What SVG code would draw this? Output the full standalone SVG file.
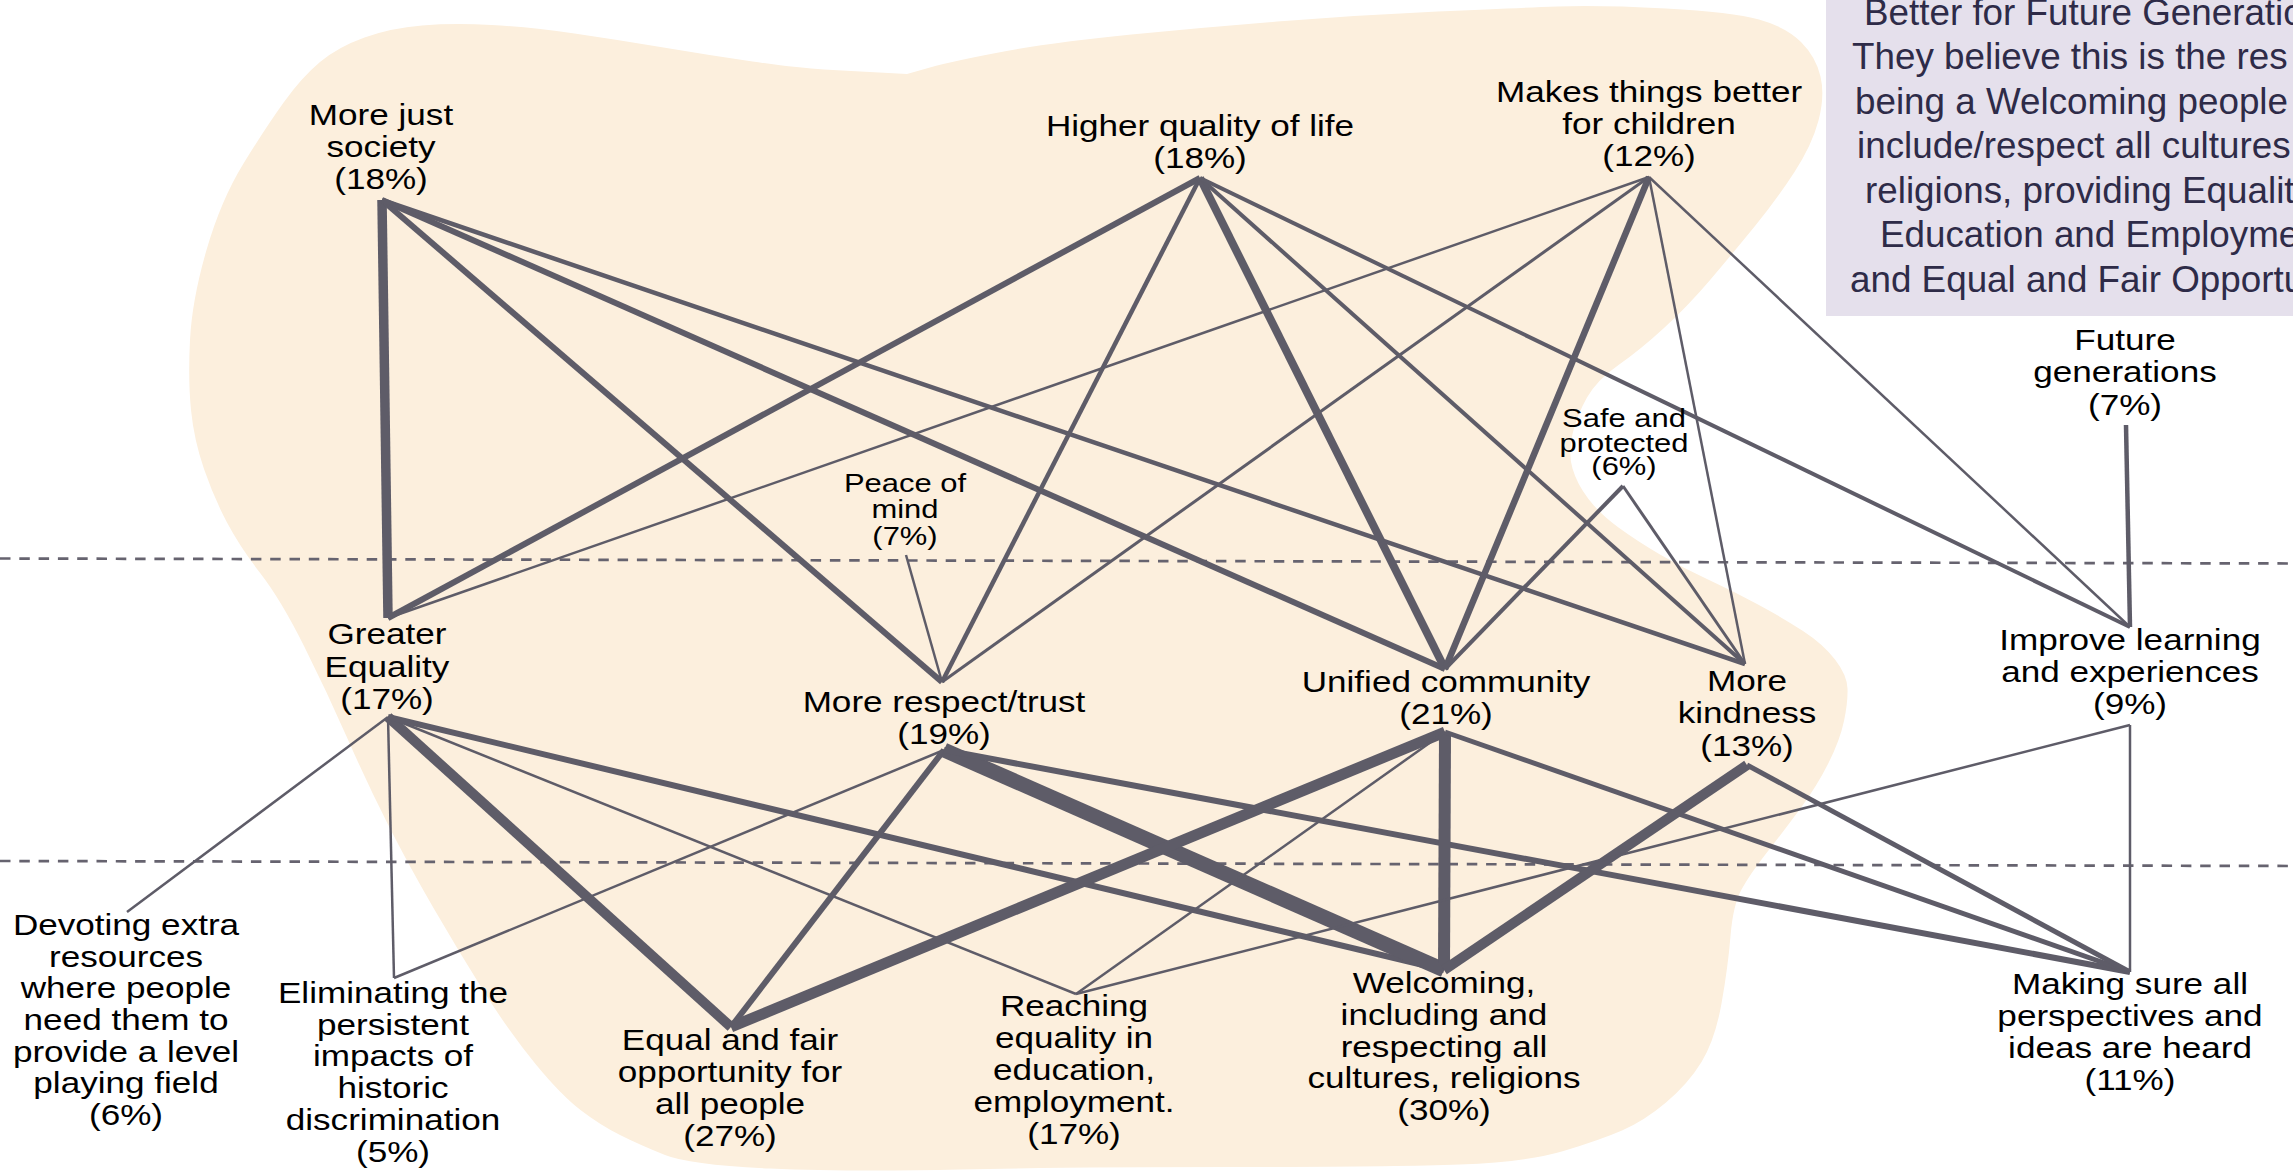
<svg xmlns="http://www.w3.org/2000/svg" width="2293" height="1175" viewBox="0 0 2293 1175">
<style>
.lbl{font-family:"Liberation Sans",Arial,sans-serif;font-size:29.5px;fill:#000;text-anchor:middle}
.sm{font-size:26px}
.box{font-family:"Liberation Sans",Arial,sans-serif;font-size:36.8px;fill:#2e2b48}
.dash{stroke:#66636f;stroke-width:2.7;stroke-dasharray:10.5 8.8;fill:none}
#connectors line{stroke:#5e5c68;stroke-linecap:butt}
</style>
<rect width="2293" height="1175" fill="#fff"/>
<path id="blob" fill="#fcefdd" d="M422,25.5 Q453,23 491.5,25 Q530,27 574.5,33.5 Q619,40 663.5,47.5 Q708,55 752.5,61.5 Q797,68 824,69.5 Q851,71 879,72.5 L907,74 L930,67.5 Q953,61 1004,51.5 Q1055,42 1131.5,34.5 Q1208,27 1284.5,21 Q1361,15 1437.5,11.5 Q1514,8 1557,6.5 Q1600,5 1666,8.5 Q1732,12 1759,19.5 Q1786,27 1801,42 Q1816,57 1820.5,76.5 Q1825,96 1818.5,120.5 Q1812,145 1794.5,172 Q1777,199 1755,226 Q1733,253 1710.5,279.5 Q1688,306 1664,328 Q1640,350 1618.5,365 Q1597,380 1587,397.5 Q1577,415 1572.5,434 Q1568,453 1572.5,468.5 Q1577,484 1588.5,499 Q1600,514 1618.5,527.5 Q1637,541 1660,554.5 Q1683,568 1708,579.5 Q1733,591 1758,604.5 Q1783,618 1803,631 Q1823,644 1835,659.5 Q1847,675 1847.5,688.5 Q1848,702 1844,721 Q1840,740 1828.5,763 Q1817,786 1800,809 Q1783,832 1766.5,853 Q1750,874 1741.5,889.5 Q1733,905 1730.5,936 Q1728,967 1721.5,1003.5 Q1715,1040 1701.5,1062 Q1688,1084 1666,1102.5 Q1644,1121 1622,1130.5 Q1600,1140 1563.5,1151 Q1527,1162 1460,1164.5 Q1393,1167 1232,1167 Q1071,1167 960.5,1169.5 Q850,1172 770,1168.5 Q690,1165 665,1155 Q640,1145 620,1135 Q600,1125 580.5,1110 Q561,1095 535.5,1064 Q510,1033 484.5,992.5 Q459,952 433.5,908 Q408,864 387.5,823.5 Q367,783 347,737.5 Q327,692 304,646 Q281,600 260.5,573.5 Q240,547 227,522.5 Q214,498 204,469 Q194,440 191,410 Q188,380 190,340 Q192,300 206.5,250 Q221,200 243.5,163.5 Q266,127 284,102 Q302,77 320,62 Q338,47 364.5,37.5 Q391,28 422,25.5 Z"/>
<g id="guides">
<line class="dash" x1="0" y1="558.5" x2="2293" y2="563.5"/>
<line class="dash" x1="0" y1="861" x2="2293" y2="866"/>
</g>
<g id="callout">
<rect x="1826" y="0" width="467" height="316" fill="#e5e0ec"/>
<text class="box"><tspan x="1864" y="24.5">Better for Future Generatio</tspan><tspan x="1852" y="69">They believe this is the res</tspan><tspan x="1855" y="113.5">being a Welcoming people</tspan><tspan x="1857" y="158">include/respect all cultures</tspan><tspan x="1865" y="202.5">religions, providing Equalit</tspan><tspan x="1880" y="247">Education and Employme</tspan><tspan x="1850" y="291.5">and Equal and Fair Opportu</tspan></text>
</g>
<g id="connectors">
<line x1="382" y1="200" x2="388" y2="618" stroke-width="9.5"/>
<line x1="382" y1="200" x2="942" y2="682" stroke-width="6"/>
<line x1="382" y1="200" x2="1445" y2="669" stroke-width="6"/>
<line x1="382" y1="200" x2="1745" y2="664" stroke-width="4.5"/>
<line x1="1200" y1="178" x2="388" y2="618" stroke-width="6"/>
<line x1="1200" y1="178" x2="942" y2="682" stroke-width="4.5"/>
<line x1="1200" y1="178" x2="1445" y2="669" stroke-width="8"/>
<line x1="1200" y1="178" x2="1745" y2="664" stroke-width="4"/>
<line x1="1200" y1="178" x2="2130" y2="627" stroke-width="4"/>
<line x1="1649" y1="177" x2="388" y2="618" stroke-width="2.5"/>
<line x1="1649" y1="177" x2="942" y2="682" stroke-width="3"/>
<line x1="1649" y1="177" x2="1445" y2="669" stroke-width="6.5"/>
<line x1="1649" y1="177" x2="1745" y2="664" stroke-width="2.5"/>
<line x1="1649" y1="177" x2="2130" y2="627" stroke-width="2.5"/>
<line x1="1623" y1="486" x2="1445" y2="669" stroke-width="4"/>
<line x1="1623" y1="486" x2="1745" y2="664" stroke-width="3"/>
<line x1="906" y1="555" x2="942" y2="682" stroke-width="2.5"/>
<line x1="2126" y1="425" x2="2130" y2="627" stroke-width="4.5"/>
<line x1="388" y1="717" x2="127" y2="912" stroke-width="2.5"/>
<line x1="388" y1="717" x2="394" y2="978" stroke-width="2.5"/>
<line x1="388" y1="717" x2="731" y2="1027" stroke-width="10"/>
<line x1="388" y1="717" x2="1076" y2="994" stroke-width="2.5"/>
<line x1="388" y1="717" x2="1444" y2="970" stroke-width="6"/>
<line x1="944" y1="750" x2="394" y2="978" stroke-width="2.5"/>
<line x1="944" y1="750" x2="731" y2="1027" stroke-width="6"/>
<line x1="944" y1="750" x2="1444" y2="970" stroke-width="15"/>
<line x1="944" y1="750" x2="2130" y2="972" stroke-width="6"/>
<line x1="1445" y1="732" x2="731" y2="1027" stroke-width="11"/>
<line x1="1445" y1="732" x2="1444" y2="970" stroke-width="12"/>
<line x1="1445" y1="732" x2="1076" y2="994" stroke-width="2.5"/>
<line x1="1445" y1="732" x2="2130" y2="972" stroke-width="5"/>
<line x1="1747" y1="765" x2="1444" y2="970" stroke-width="10"/>
<line x1="1747" y1="765" x2="2130" y2="972" stroke-width="5"/>
<line x1="2130" y1="725" x2="1076" y2="994" stroke-width="2.5"/>
<line x1="2130" y1="725" x2="2130" y2="972" stroke-width="2.5"/>
</g>
<g id="n-mjs"><text class="lbl" transform="translate(381 0) scale(1.19 1)"><tspan x="0" y="125">More just</tspan><tspan x="0" y="157">society</tspan><tspan x="0" y="189">(18%)</tspan></text></g>
<g id="n-hql"><text class="lbl" transform="translate(1200 0) scale(1.19 1)"><tspan x="0" y="136.5">Higher quality of life</tspan><tspan x="0" y="168.5">(18%)</tspan></text></g>
<g id="n-mtb"><text class="lbl" transform="translate(1649 0) scale(1.19 1)"><tspan x="0" y="102.5">Makes things better</tspan><tspan x="0" y="134.5">for children</tspan><tspan x="0" y="166.5">(12%)</tspan></text></g>
<g id="n-fg"><text class="lbl" transform="translate(2125 0) scale(1.19 1)"><tspan x="0" y="350">Future</tspan><tspan x="0" y="382.5">generations</tspan><tspan x="0" y="415">(7%)</tspan></text></g>
<g id="n-sp"><text class="lbl sm" transform="translate(1624 0) scale(1.19 1)"><tspan x="0" y="426.7">Safe and</tspan><tspan x="0" y="452">protected</tspan><tspan x="0" y="475.5">(6%)</tspan></text></g>
<g id="n-pm"><text class="lbl sm" transform="translate(905 0) scale(1.19 1)"><tspan x="0" y="492">Peace of</tspan><tspan x="0" y="518.5">mind</tspan><tspan x="0" y="545">(7%)</tspan></text></g>
<g id="n-ge"><text class="lbl" transform="translate(387 0) scale(1.19 1)"><tspan x="0" y="644.5">Greater</tspan><tspan x="0" y="677">Equality</tspan><tspan x="0" y="709.5">(17%)</tspan></text></g>
<g id="n-rt"><text class="lbl" transform="translate(944 0) scale(1.19 1)"><tspan x="0" y="712">More respect/trust</tspan><tspan x="0" y="744">(19%)</tspan></text></g>
<g id="n-uc"><text class="lbl" transform="translate(1446 0) scale(1.19 1)"><tspan x="0" y="692.5">Unified community</tspan><tspan x="0" y="724.5">(21%)</tspan></text></g>
<g id="n-mk"><text class="lbl" transform="translate(1747 0) scale(1.19 1)"><tspan x="0" y="691">More</tspan><tspan x="0" y="723.5">kindness</tspan><tspan x="0" y="756">(13%)</tspan></text></g>
<g id="n-il"><text class="lbl" transform="translate(2130 0) scale(1.19 1)"><tspan x="0" y="650.5">Improve learning</tspan><tspan x="0" y="682">and experiences</tspan><tspan x="0" y="714">(9%)</tspan></text></g>
<g id="n-dev"><text class="lbl" transform="translate(126 0) scale(1.19 1)"><tspan x="0" y="935.5">Devoting extra</tspan><tspan x="0" y="967">resources</tspan><tspan x="0" y="998.5">where people</tspan><tspan x="0" y="1030.5">need them to</tspan><tspan x="0" y="1062">provide a level</tspan><tspan x="0" y="1093.5">playing field</tspan><tspan x="0" y="1125">(6%)</tspan></text></g>
<g id="n-elim"><text class="lbl" transform="translate(393 0) scale(1.19 1)"><tspan x="0" y="1003.5">Eliminating the</tspan><tspan x="0" y="1035">persistent</tspan><tspan x="0" y="1066.5">impacts of</tspan><tspan x="0" y="1098">historic</tspan><tspan x="0" y="1130">discrimination</tspan><tspan x="0" y="1162">(5%)</tspan></text></g>
<g id="n-eq"><text class="lbl" transform="translate(730 0) scale(1.19 1)"><tspan x="0" y="1050">Equal and fair</tspan><tspan x="0" y="1082">opportunity for</tspan><tspan x="0" y="1114">all people</tspan><tspan x="0" y="1146">(27%)</tspan></text></g>
<g id="n-reach"><text class="lbl" transform="translate(1074 0) scale(1.19 1)"><tspan x="0" y="1016.5">Reaching</tspan><tspan x="0" y="1048.5">equality in</tspan><tspan x="0" y="1080.5">education,</tspan><tspan x="0" y="1112.5">employment.</tspan><tspan x="0" y="1144.5">(17%)</tspan></text></g>
<g id="n-welc"><text class="lbl" transform="translate(1444 0) scale(1.19 1)"><tspan x="0" y="993.5">Welcoming,</tspan><tspan x="0" y="1025.5">including and</tspan><tspan x="0" y="1057">respecting all</tspan><tspan x="0" y="1088.5">cultures, religions</tspan><tspan x="0" y="1120">(30%)</tspan></text></g>
<g id="n-ms"><text class="lbl" transform="translate(2130 0) scale(1.19 1)"><tspan x="0" y="994">Making sure all</tspan><tspan x="0" y="1026">perspectives and</tspan><tspan x="0" y="1058">ideas are heard</tspan><tspan x="0" y="1090.5">(11%)</tspan></text></g>
</svg>
